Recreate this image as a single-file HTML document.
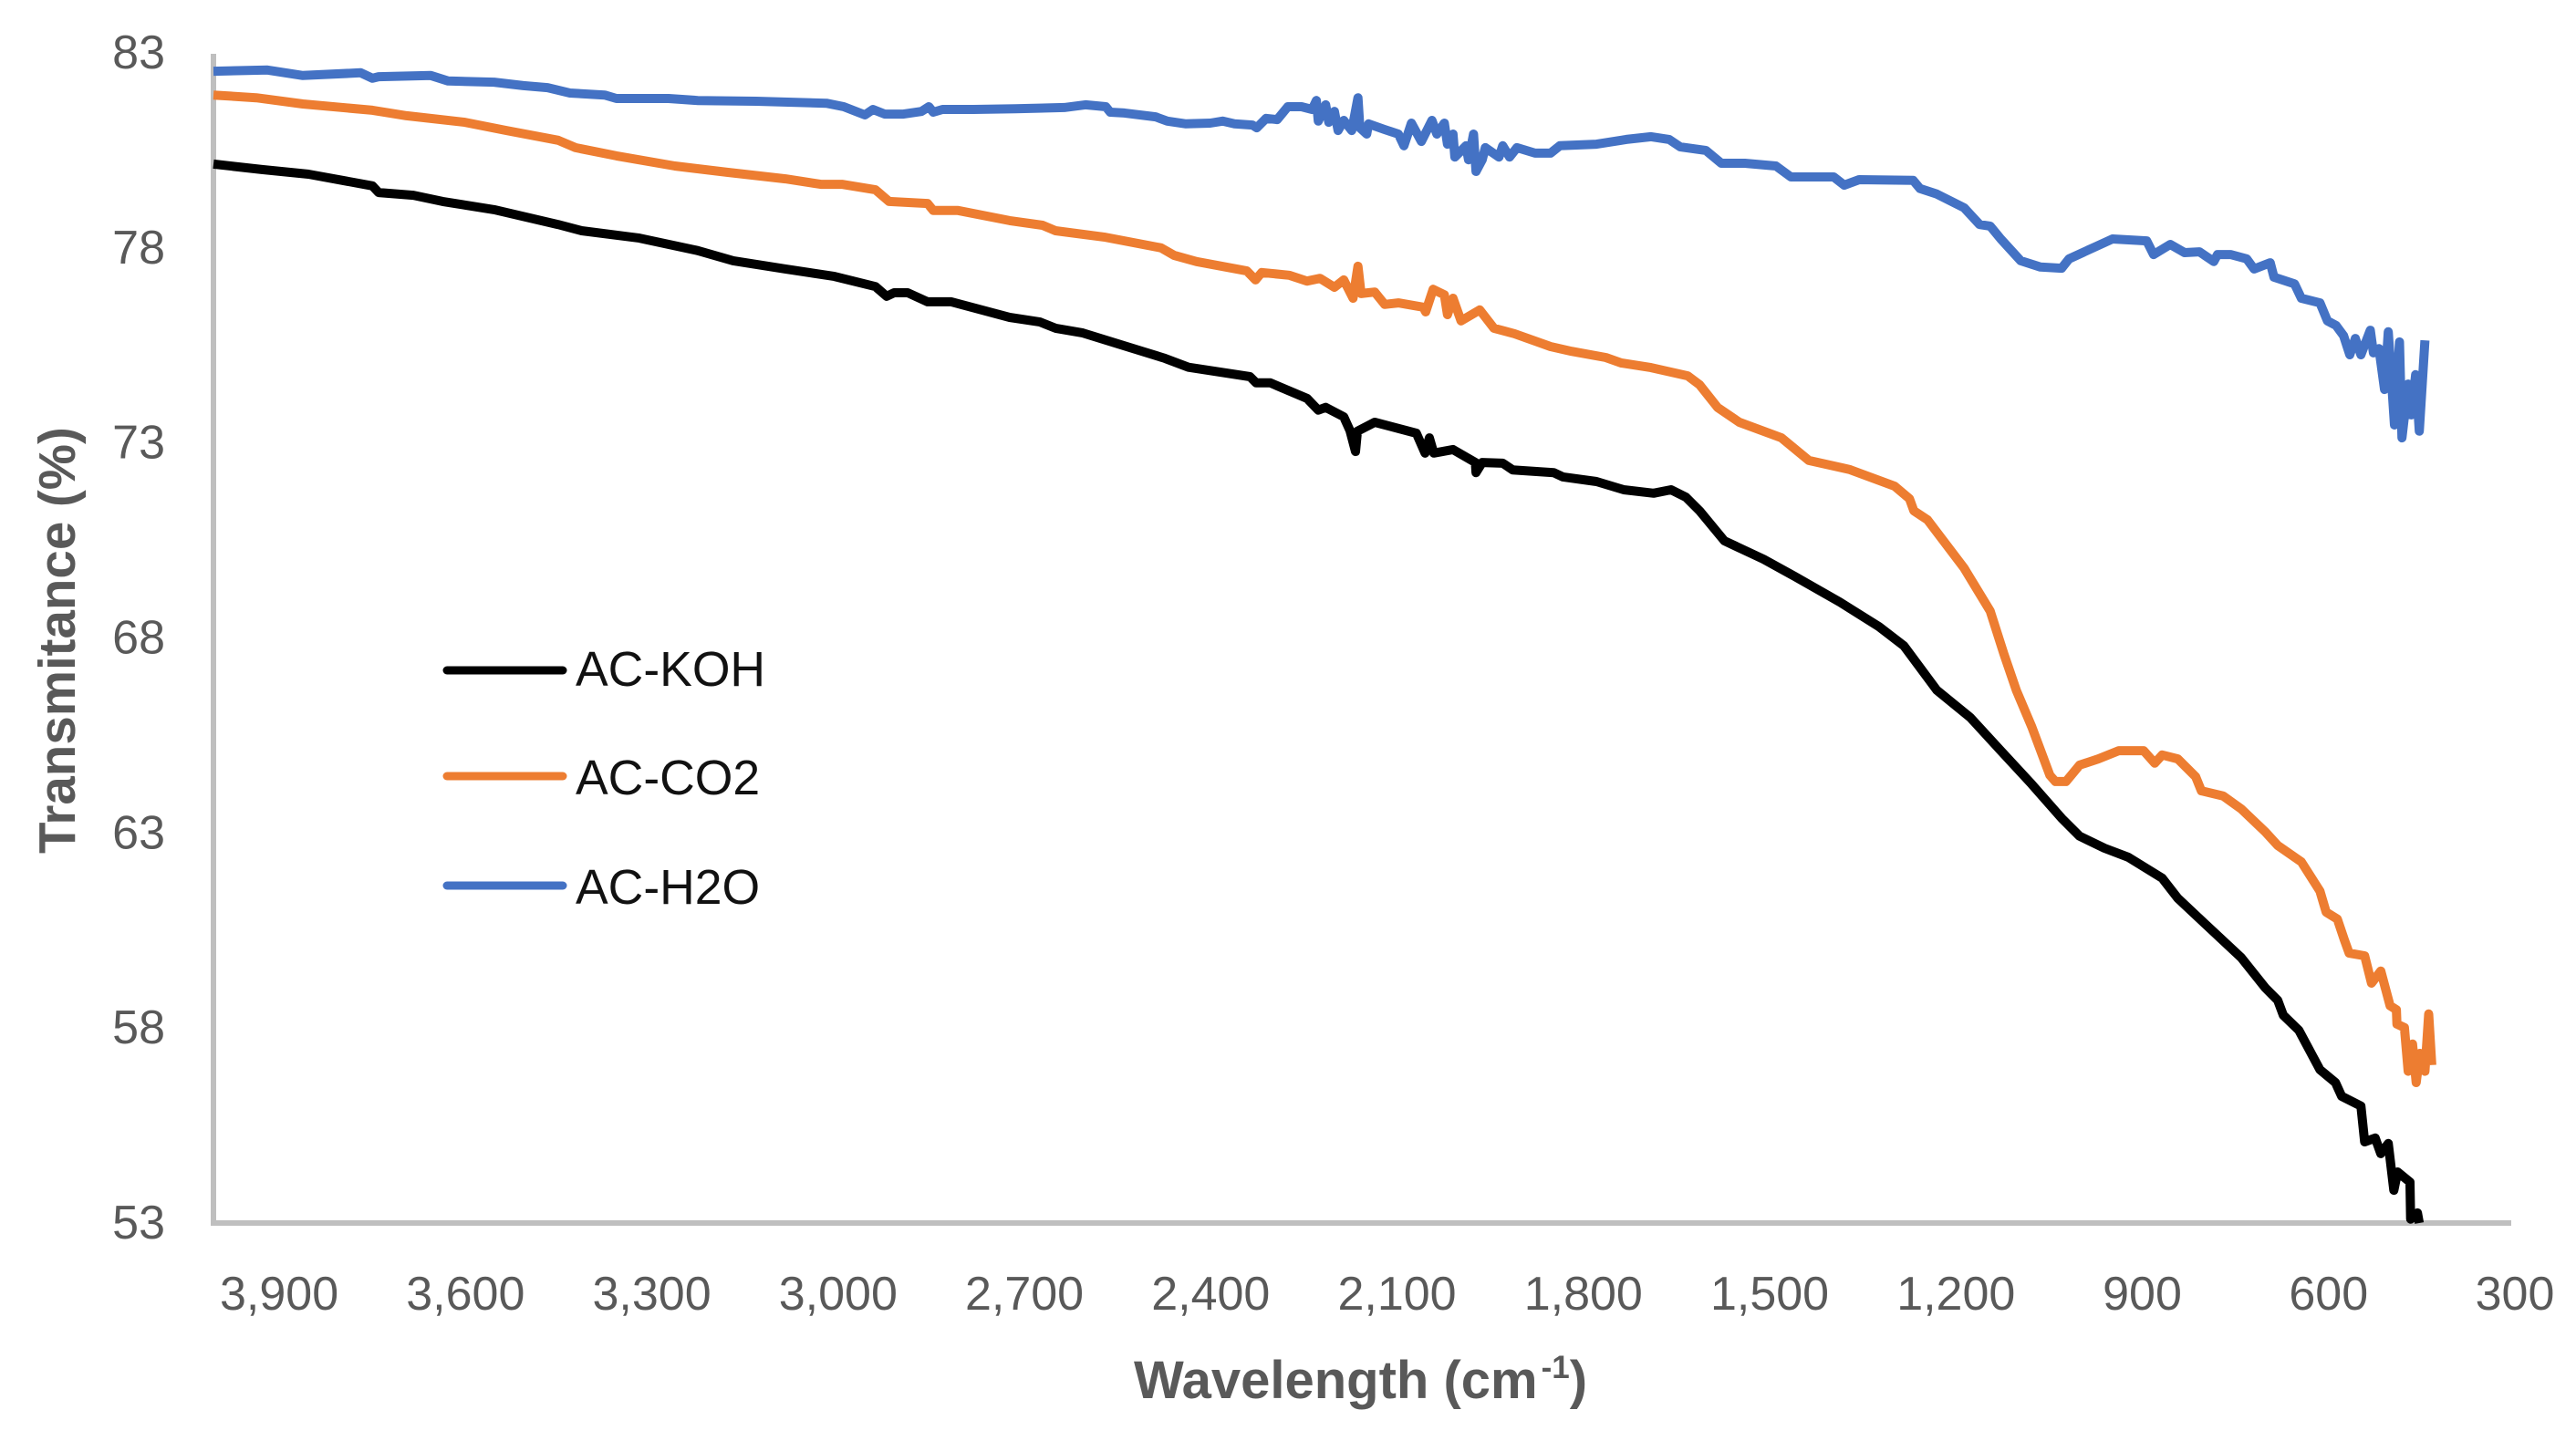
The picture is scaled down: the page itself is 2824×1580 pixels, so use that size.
<!DOCTYPE html>
<html lang="en">
<head>
<meta charset="utf-8">
<title>FTIR transmittance chart</title>
<style>
html,body{margin:0;padding:0;background:#fff;width:2824px;height:1580px;overflow:hidden}
svg{display:block}
text{font-family:"Liberation Sans",sans-serif}
</style>
</head>
<body>
<svg id="chart" xmlns="http://www.w3.org/2000/svg" width="2824" height="1580" viewBox="0 0 2824 1580">
  <rect width="2824" height="1580" fill="#ffffff"/>
  <g id="y-ticks"></g>
  <g id="x-ticks"></g>
  <line x1="234" y1="59" x2="234" y2="1344" stroke="#bfbfbf" stroke-width="6"/>
  <line x1="231" y1="1341" x2="2753" y2="1341" stroke="#bfbfbf" stroke-width="6"/>
  <g id="series"></g>
  <text transform="translate(82 936) rotate(-90)" font-size="56.5" font-weight="700" fill="#595959">Transmitance (%)</text>
  <text x="1243" y="1533" font-size="58" font-weight="700" fill="#595959">Wavelength (cm<tspan font-size="35" dy="-22" dx="4">-1</tspan><tspan dy="22">)</tspan></text>
  <g>
    <line x1="490" y1="735" x2="617" y2="735" stroke="#000000" stroke-width="9" stroke-linecap="round"/>
    <text x="631" y="752" font-size="53.5" fill="#111111">AC-KOH</text>
    <line x1="490" y1="851" x2="617" y2="851" stroke="#ed7d31" stroke-width="9" stroke-linecap="round"/>
    <text x="631" y="871" font-size="53.5" fill="#111111">AC-CO2</text>
    <line x1="490" y1="971" x2="617" y2="971" stroke="#4472c4" stroke-width="9" stroke-linecap="round"/>
    <text x="631" y="991" font-size="53.5" fill="#111111">AC-H2O</text>
  </g>
</svg>
<script>
const yTickValues = [83, 78, 73, 68, 63, 58, 53];
const xTickValues = [3900, 3600, 3300, 3000, 2700, 2400, 2100, 1800, 1500, 1200, 900, 600, 300];

const kohWavenumbers = [4000,3922,3847,3744,3734,3678,3631,3548,3445,3407,3314,3220,3163,3079,3000,2934,2916,2904,2882,2850,2812,2718,2669,2644,2600,2468,2430,2331,2321,2298,2239,2221,2209,2180,2170,2161,2158,2130,2063,2049,2042,2035,2004,1968,1967,1957,1924,1908,1842,1827,1773,1729,1681,1653,1629,1607,1567,1504,1454,1381,1318,1278,1225,1171,1122,1072,1024,995,955,917,862,837,793,735,696,676,667,642,608,583,573,542,536,519,510,498,489,483,463,462,451,448];
const kohTransmittance = [80.15,80.01,79.89,79.59,79.42,79.35,79.19,78.98,78.60,78.44,78.25,77.93,77.67,77.46,77.27,77.01,76.76,76.85,76.85,76.62,76.62,76.22,76.10,75.94,75.82,75.17,74.94,74.70,74.54,74.54,74.14,73.84,73.91,73.67,73.32,72.78,73.30,73.53,73.25,72.74,73.13,72.74,72.83,72.50,72.24,72.50,72.48,72.31,72.24,72.13,72.01,71.80,71.71,71.80,71.61,71.26,70.49,70.02,69.58,68.92,68.29,67.80,66.66,65.96,65.11,64.25,63.38,62.92,62.61,62.38,61.84,61.33,60.67,59.81,59.03,58.71,58.33,57.94,56.93,56.60,56.25,56.00,55.08,55.18,54.78,55.04,53.84,54.31,54.05,53.10,53.26,53.00];

const co2Wavenumbers = [4000,3931,3856,3744,3689,3595,3528,3445,3417,3351,3257,3173,3079,3022,2988,2934,2912,2850,2841,2801,2718,2665,2644,2566,2474,2453,2417,2336,2322,2312,2268,2239,2218,2195,2180,2165,2157,2152,2130,2114,2092,2052,2048,2036,2018,2013,2004,1991,1961,1938,1905,1847,1813,1758,1733,1685,1626,1607,1578,1543,1475,1431,1366,1293,1269,1262,1240,1181,1139,1117,1097,1072,1043,1034,1017,995,965,932,892,874,862,837,808,799,764,735,696,676,638,608,598,580,569,561,536,525,510,495,485,484,472,466,459,453,447,439,433,428];
const co2Transmittance = [81.92,81.85,81.69,81.53,81.39,81.22,81.01,80.76,80.57,80.36,80.10,79.94,79.77,79.63,79.63,79.49,79.19,79.14,78.96,78.96,78.70,78.58,78.44,78.28,78.00,77.81,77.65,77.41,77.18,77.37,77.30,77.15,77.22,76.99,77.18,76.71,77.53,76.83,76.87,76.55,76.59,76.48,76.36,76.94,76.80,76.29,76.71,76.13,76.41,75.94,75.80,75.47,75.35,75.19,75.05,74.93,74.72,74.49,73.91,73.53,73.13,72.55,72.32,71.89,71.57,71.26,71.03,69.79,68.69,67.59,66.66,65.72,64.48,64.32,64.32,64.74,64.90,65.11,65.11,64.79,65.00,64.90,64.44,64.08,63.95,63.62,63.03,62.68,62.26,61.51,60.97,60.79,60.27,59.92,59.85,59.15,59.46,58.57,58.47,58.10,58.01,56.89,57.59,56.60,57.35,56.89,58.36,57.05];

const h2oWavenumbers = [4000,3913,3856,3763,3744,3734,3650,3622,3548,3501,3462,3426,3370,3351,3267,3220,3126,3013,2985,2951,2938,2919,2889,2860,2848,2841,2826,2776,2709,2630,2596,2563,2556,2533,2483,2464,2434,2395,2375,2356,2327,2320,2305,2287,2270,2248,2231,2224,2221,2209,2204,2195,2189,2180,2167,2157,2154,2143,2140,2115,2092,2083,2071,2055,2038,2030,2018,2013,2004,2001,1983,1979,1971,1967,1957,1952,1930,1924,1913,1901,1872,1847,1832,1773,1725,1685,1656,1638,1597,1572,1534,1484,1460,1391,1374,1350,1263,1252,1225,1181,1156,1139,1122,1090,1058,1024,1012,971,942,887,876,849,826,802,779,773,752,726,714,688,682,649,638,608,596,582,570,560,551,542,527,522,513,504,498,488,480,476,466,461,454,448,439];
const h2oTransmittance = [82.53,82.56,82.42,82.49,82.35,82.39,82.42,82.28,82.25,82.16,82.11,81.97,81.92,81.83,81.83,81.78,81.76,81.71,81.62,81.41,81.55,81.43,81.43,81.50,81.62,81.48,81.55,81.55,81.57,81.60,81.67,81.62,81.48,81.46,81.36,81.25,81.18,81.20,81.25,81.18,81.15,81.08,81.32,81.29,81.62,81.62,81.55,81.78,81.25,81.67,81.22,81.50,81.01,81.27,81.01,81.85,81.08,80.92,81.18,81.04,80.92,80.62,81.20,80.73,81.27,80.92,81.20,80.66,80.92,80.33,80.62,80.26,80.92,79.96,80.26,80.57,80.33,80.62,80.33,80.57,80.43,80.43,80.62,80.66,80.78,80.85,80.78,80.59,80.50,80.17,80.17,80.10,79.82,79.82,79.61,79.75,79.73,79.52,79.38,79.03,78.60,78.56,78.23,77.67,77.51,77.48,77.72,78.02,78.23,78.18,77.83,78.09,77.88,77.90,77.65,77.83,77.83,77.72,77.46,77.62,77.25,77.08,76.71,76.59,76.13,76.01,75.75,75.26,75.68,75.26,75.89,75.31,75.42,74.37,75.85,73.46,75.59,73.13,74.51,73.72,74.75,73.30,75.63];

const NS = 'http://www.w3.org/2000/svg';

function xScale(wavenumber) {
  return 234 + (4000 - wavenumber) * (2753 - 234) / 3700;
}
function yScale(value) {
  return 58 + (83 - value) * (1341 - 58) / 30;
}
function buildPath(xs, ys) {
  return xs.map(function (w, i) {
    return (i ? 'L' : 'M') + xScale(w).toFixed(1) + ' ' + yScale(ys[i]).toFixed(1);
  }).join(' ');
}

const yGroup = document.getElementById('y-ticks');
yTickValues.forEach(function (v) {
  const t = document.createElementNS(NS, 'text');
  
  
  t.setAttribute('x', 181);
  t.setAttribute('y', yScale(v) + 17);
  t.setAttribute('text-anchor', 'end');
  t.setAttribute('font-size', 52);
  t.setAttribute('fill', '#595959');
  t.textContent = String(v);
  yGroup.appendChild(t);
});

const xGroup = document.getElementById('x-ticks');
xTickValues.forEach(function (v) {
  const t = document.createElementNS(NS, 'text');
  
  
  t.setAttribute('x', xScale(v) + 4);
  t.setAttribute('y', 1436);
  t.setAttribute('text-anchor', 'middle');
  t.setAttribute('font-size', 52);
  t.setAttribute('fill', '#595959');
  t.textContent = v.toLocaleString('en-US');
  xGroup.appendChild(t);
});

const seriesGroup = document.getElementById('series');

const koh = document.createElementNS(NS, 'path');


koh.setAttribute('d', buildPath(kohWavenumbers, kohTransmittance));
koh.setAttribute('stroke', '#000000');

const co2 = document.createElementNS(NS, 'path');


co2.setAttribute('d', buildPath(co2Wavenumbers, co2Transmittance));
co2.setAttribute('stroke', '#ed7d31');

const h2o = document.createElementNS(NS, 'path');


h2o.setAttribute('d', buildPath(h2oWavenumbers, h2oTransmittance));
h2o.setAttribute('stroke', '#4472c4');

[koh, co2, h2o].forEach(function (p) {
  p.setAttribute('fill', 'none');
  p.setAttribute('stroke-width', '10');
  p.setAttribute('stroke-linejoin', 'round');
  p.setAttribute('stroke-linecap', 'butt');
  seriesGroup.appendChild(p);
});
</script>
</body>
</html>
